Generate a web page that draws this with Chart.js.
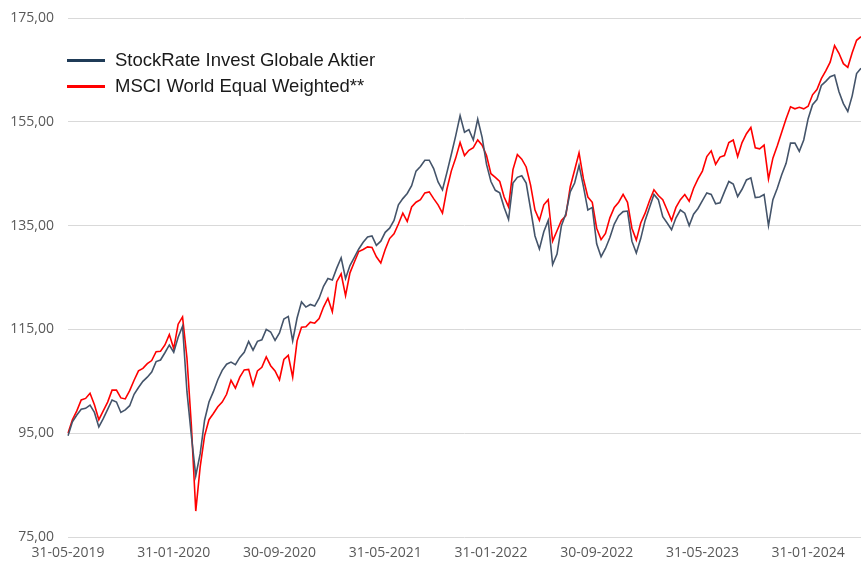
<!DOCTYPE html>
<html>
<head>
<meta charset="utf-8">
<script src="https://cdn.jsdelivr.net/npm/chart.js@4"></script>
<style>
  html, body { margin:0; padding:0; background:#fff; }
  #wrap { position:relative; width:861px; height:565px; }
  #legend { position:absolute; left:67px; top:47px; font-family:"Liberation Sans", Arial, sans-serif; font-size:18.5px; color:#1a1a1a; }
  #legend .row { display:flex; align-items:center; height:26px; }
  #legend .swatch { width:38px; height:3px; margin-right:10px; }
</style>
</head>
<body>
<div id="wrap">
  <canvas id="perfChart" width="861" height="565"></canvas>
  <div id="legend"></div>
</div>
<script>
// chart data (approx. every 10 days)
const tickLabels = ['31-05-2019','31-01-2020','30-09-2020','31-05-2021','31-01-2022','30-09-2022','31-05-2023','31-01-2024'];

const seriesNames = ['StockRate Invest Globale Aktier', 'MSCI World Equal Weighted**'];

const stockRate = [94.5,97.2,98.5,99.6,99.8,100.4,99.0,96.2,97.8,99.6,
  101.4,101.0,99.0,99.5,100.3,102.5,103.8,105.0,105.8,106.8,
  108.8,109.1,110.5,112.0,110.6,113.5,115.6,103.0,94.5,86.8,
  91.0,97.5,101.0,103.0,105.3,107.1,108.3,108.7,108.2,109.6,
  110.6,112.7,111.0,112.7,113.0,115.0,114.5,112.9,114.3,117.0,
  117.5,112.8,117.2,120.3,119.3,119.8,119.5,121.0,123.3,124.8,
  124.5,126.8,128.8,124.8,127.3,128.9,130.5,131.8,132.8,133.0,
  131.2,132.0,133.7,134.5,136.0,139.0,140.2,141.2,142.7,145.5,
  146.4,147.6,147.6,146.0,143.4,141.9,145.2,148.7,152.3,156.2,
  153.0,153.5,151.5,155.5,152.0,146.8,143.5,141.8,141.3,138.5,
  136.2,143.2,144.3,144.6,143.2,138.2,133.0,130.5,133.8,136.0,
  127.5,129.5,135.0,137.3,141.5,143.2,146.6,142.5,138.0,138.5,
  131.5,129.0,130.6,132.7,135.3,136.9,137.7,137.8,132.0,129.7,
  132.5,136.0,138.5,141.0,140.0,136.7,135.5,134.2,136.5,138.0,
  137.4,135.0,137.2,138.3,139.8,141.3,141.0,139.2,139.4,141.5,
  143.5,143.0,140.6,142.0,143.8,144.2,140.4,140.5,141.0,135.0,
  140.0,142.2,144.8,147.0,150.9,150.9,149.3,151.5,155.6,158.3,
  159.3,162.0,162.8,163.7,164.0,160.8,158.5,157.0,160.0,164.3,
  165.3];

const msciEW = [95.0,97.6,99.3,101.4,101.7,102.7,100.5,97.6,99.3,101.0,
  103.3,103.3,101.8,101.6,103.2,105.2,107.0,107.5,108.4,109.0,
  110.7,110.8,112.0,114.0,111.3,116.0,117.4,109.5,96.5,80.0,
  88.5,94.5,97.6,98.8,100.1,101.0,102.5,105.2,103.7,105.8,
  107.2,107.3,104.2,107.0,107.7,109.7,108.0,107.0,105.3,109.2,
  110.0,105.8,112.8,115.4,115.5,116.4,116.2,117.1,119.3,121.0,
  118.4,124.2,125.7,121.5,125.9,128.0,130.0,130.4,130.9,130.8,
  129.0,127.8,130.4,132.5,133.4,135.3,137.4,135.8,138.6,139.5,
  140.0,141.3,141.5,140.2,139.0,137.4,142.0,145.5,148.0,151.0,
  148.5,149.5,150.0,151.5,150.5,148.5,145.0,144.3,143.5,140.5,
  138.6,145.8,148.7,147.8,146.3,142.8,138.0,136.0,139.0,140.0,
  132.0,134.0,136.0,136.9,142.5,145.7,149.0,144.0,140.5,139.5,
  134.5,132.3,133.5,136.5,138.5,139.5,141.0,139.5,134.5,132.2,
  135.5,137.4,139.8,141.9,140.8,140.0,138.0,136.0,138.5,140.0,
  141.0,139.7,142.2,144.0,145.5,148.3,149.4,146.8,148.2,148.5,
  151.0,151.5,148.3,151.0,152.7,153.9,150.0,149.8,150.5,144.0,
  148.0,150.4,153.0,155.6,157.9,157.5,157.8,157.5,158.0,160.2,
  161.2,163.3,164.8,166.5,169.7,168.2,166.2,165.5,168.3,170.7,
  171.4];

const lineColors = ['#44546a', '#ff0000'];
const legendColors = ['#1f3b57', '#ff0000'];

// ---------- categories: 31-05-2019, then 10th / 20th / month end ----------
function buildDates(){
  const out = ['31-05-2019'];
  for (let y=2019, m=6; out.length < stockRate.length; m++){
    if (m > 12){ m = 1; y++; }
    const last = new Date(y, m, 0).getDate();
    const mm = String(m).padStart(2,'0');
    out.push(`10-${mm}-${y}`, `20-${mm}-${y}`, `${last}-${mm}-${y}`);
  }
  return out;
}
const categories = buildDates();

const fmt = v => v.toFixed(2).replace('.', ',');

// ---------- legend (html, sits on top of the plot) ----------
const legendEl = document.getElementById('legend');
seriesNames.forEach((name, i) => {
  const row = document.createElement('div');
  row.className = 'row';
  row.innerHTML = `<span class="swatch" style="background:${legendColors[i]}"></span><span>${name}</span>`;
  legendEl.appendChild(row);
});

// ---------- chart ----------
const axisFont = { family: '"Open Sans", "DejaVu Sans", sans-serif', size: 14 };

new Chart(document.getElementById('perfChart').getContext('2d'), {
  type: 'line',
  data: {
    labels: categories,
    datasets: [
      { label: seriesNames[0], data: stockRate, borderColor: lineColors[0], borderWidth: 1.6, pointRadius: 0, tension: 0, fill: false },
      { label: seriesNames[1], data: msciEW, borderColor: lineColors[1], borderWidth: 1.6, pointRadius: 0, tension: 0, fill: false }
    ]
  },
  options: {
    responsive: false,
    animation: false,
    layout: { padding: { top: 18, right: 0, left: 0, bottom: 0 } },
    plugins: { legend: { display: false }, tooltip: { enabled: false } },
    scales: {
      x: {
        offset: false,
        grid: { display: false, drawTicks: false },
        border: { display: false },
        afterFit: s => { s.height = 28; },
        ticks: {
          autoSkip: false, maxRotation: 0, padding: 8,
          color: '#595959', font: axisFont,
          callback: function(val){ const l = this.getLabelForValue(val); return tickLabels.includes(l) ? l : null; }
        }
      },
      y: {
        min: 75, max: 175,
        grid: { color: '#d9d9d9', drawTicks: false },
        border: { display: false },
        // fixed axis width, no extra room for the half label on top
        afterFit: s => { s.width = 68; s.paddingTop = 0; s.paddingBottom = 0; },
        ticks: { stepSize: 20, padding: 14, color: '#595959', font: axisFont, callback: v => fmt(v) }
      }
    }
  }
});
</script>
</body>
</html>
